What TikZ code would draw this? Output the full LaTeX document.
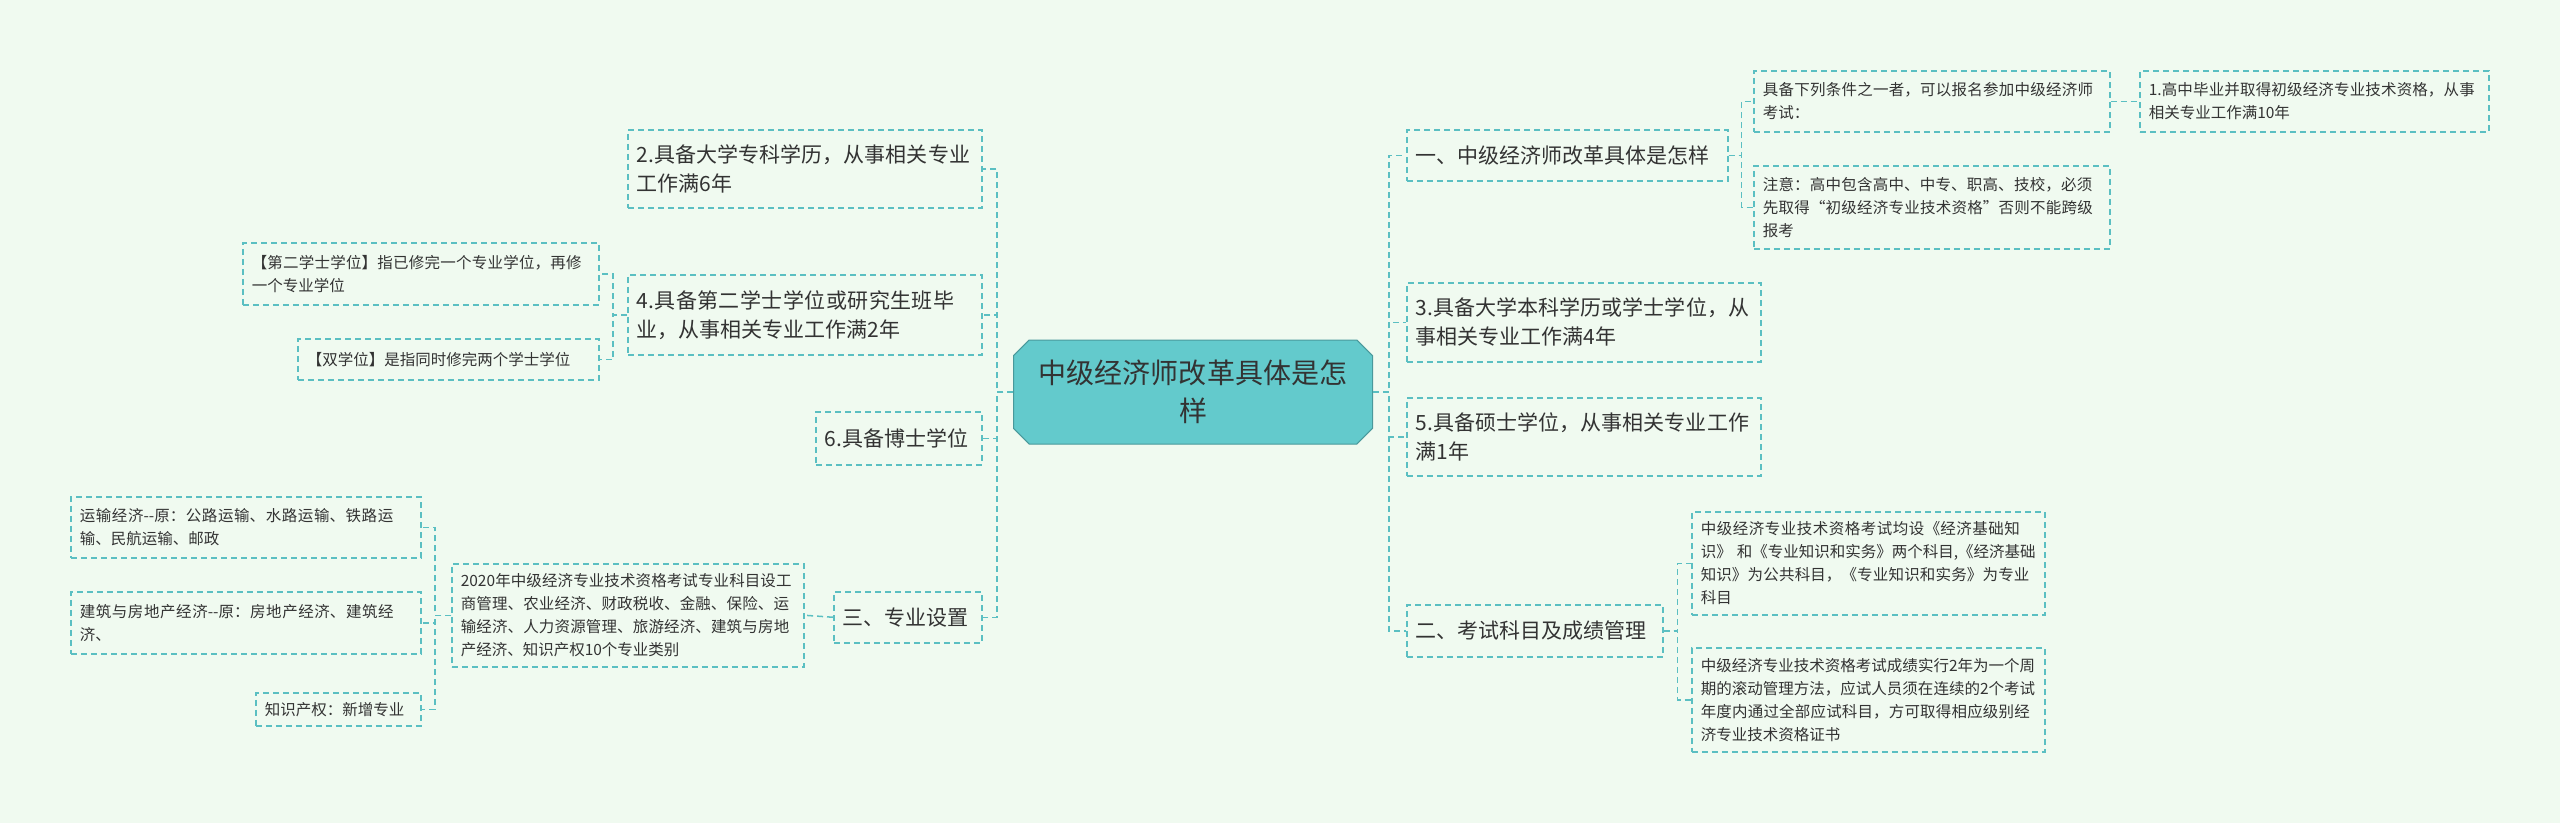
\documentclass[tikz,border=0pt]{standalone}
\usepackage{fontspec}
\setmainfont{Noto Sans CJK SC}
\XeTeXlinebreaklocale "zh"
\XeTeXlinebreakskip=0pt plus 1pt
\usetikzlibrary{shapes.misc}
\definecolor{bg}{HTML}{F0FAF0}
\definecolor{ln}{HTML}{5BBFC2}
\definecolor{cfill}{HTML}{63CACC}
\definecolor{txt}{HTML}{333333}
\tikzset{
  box/.style={draw=ln, dashed, dash pattern=on 6pt off 4pt, line width=1.5pt, align=left, anchor=north west, inner xsep=8pt, inner ysep=6pt, text=txt, font=\fontsize{21}{29}\selectfont},
  sbox/.style={box, font=\fontsize{15.5}{23}\selectfont},
  conn/.style={draw=ln, line width=1.5pt, dash pattern=on 6pt off 4pt},
}
\newcommand{\bx}[7]{% name, style, x1,y1,x2,y2,text
  \pgfmathsetmacro{\bw}{#5-#3}\pgfmathsetmacro{\bh}{#6-#4}\pgfmathsetmacro{\tw}{#5-#3-18}%
  \node[#2, minimum width=\bw pt, minimum height=\bh pt, text width=\tw pt] (#1) at (#3,#4) {#7};}
\begin{document}
\begin{tikzpicture}[x=1pt,y=-1pt]
\fill[bg] (0,0) rectangle (2560,823);
\useasboundingbox (0,0) rectangle (2560,823);
\node[chamfered rectangle, chamfered rectangle xsep=12pt, fill=cfill, draw=ln!80!black, line width=1pt, minimum width=359pt, minimum height=104pt, text width=320pt, align=center, text=txt, font=\fontsize{28}{38}\selectfont] (c) at (1193,392) {中级经济师改革具体是怎\\样};
% left
\bx{l1}{box}{627}{129}{981}{207}{2.具备大学专科学历，从事相关专业工作满6年}
\bx{l2}{box}{627}{274}{981}{354}{4.具备第二学士学位或研究生班毕业，从事相关专业工作满2年}
\bx{l3}{box}{815}{411}{981}{464}{6.具备博士学位}
\bx{l4}{box}{833}{591}{981}{642}{三、专业设置}
\bx{l2a}{sbox}{242}{242}{598}{304}{【第二学士学位】指已修完一个专业学位，再修一个专业学位}
\bx{l2b}{sbox}{297}{338}{598}{379}{【双学位】是指同时修完两个学士学位}
\bx{l4a}{sbox}{451}{563}{803}{666}{2020年中级经济专业技术资格考试专业科目设工商管理、农业经济、财政税收、金融、保险、运输经济、人力资源管理、旅游经济、建筑与房地产经济、知识产权10个专业类别}
\bx{m1}{sbox}{70}{496}{420}{557}{运输经济-{}-原：公路运输、水路运输、铁路运输、民航运输、邮政}
\bx{m2}{sbox}{70}{591}{420}{653}{建筑与房地产经济-{}-原：房地产经济、建筑经济、}
\bx{m3}{sbox}{255}{692}{420}{725}{知识产权：新增专业}
% right
\bx{r1}{box}{1406}{129}{1727}{180}{一、中级经济师改革具体是怎样}
\bx{r2}{box}{1406}{282}{1760}{361}{3.具备大学本科学历或学士学位，从事相关专业工作满4年}
\bx{r3}{box}{1406}{397}{1760}{475}{5.具备硕士学位，从事相关专业工作满1年}
\bx{r4}{box}{1406}{604}{1662}{656}{二、考试科目及成绩管理}
\bx{r1a}{sbox}{1753}{70}{2109}{131}{具备下列条件之一者，可以报名参加中级经济师考试：}
\bx{r1b}{sbox}{1753}{165}{2109}{248}{注意：高中包含高中、中专、职高、技校，必须先取得“初级经济专业技术资格”否则不能跨级报考}
\bx{r1aa}{sbox}{2139}{70}{2488}{131}{1.高中毕业并取得初级经济专业技术资格，从事相关专业工作满10年}
\bx{r4a}{sbox}{1691}{511}{2044}{614}{中级经济专业技术资格考试均设《经济基础知识》 和《专业知识和实务》两个科目,《经济基础知识》为公共科目，《专业知识和实务》为专业科目}
\bx{r4b}{sbox}{1691}{647}{2044}{751}{中级经济专业技术资格考试成绩实行2年为一个周期的滚动管理方法，应试人员须在连续的2个考试年度内通过全部应试科目，方可取得相应级别经济专业技术资格证书}
% connectors
\foreach \n in {l1,l2,l3,l4} \draw[conn] (c.west) -- ++(-16,0) |- (\n.east);
\foreach \n in {r1,r2,r3,r4} \draw[conn] (c.east) -- ++(16,0) |- (\n.west);
\foreach \n in {l2a,l2b} \draw[conn] (l2.west) -- ++(-14,0) |- (\n.east);
\draw[conn] (l4.west) -- (l4a.east);
\foreach \n in {m1,m2,m3} \draw[conn] (l4a.west) -- ++(-16,0) |- (\n.east);
\foreach \n in {r1a,r1b} \draw[conn] (r1.east) -- ++(13,0) |- (\n.west);
\draw[conn] (r1a.east) -- (r1aa.west);
\foreach \n in {r4a,r4b} \draw[conn] (r4.east) -- ++(14,0) |- (\n.west);
\end{tikzpicture}
\end{document}
